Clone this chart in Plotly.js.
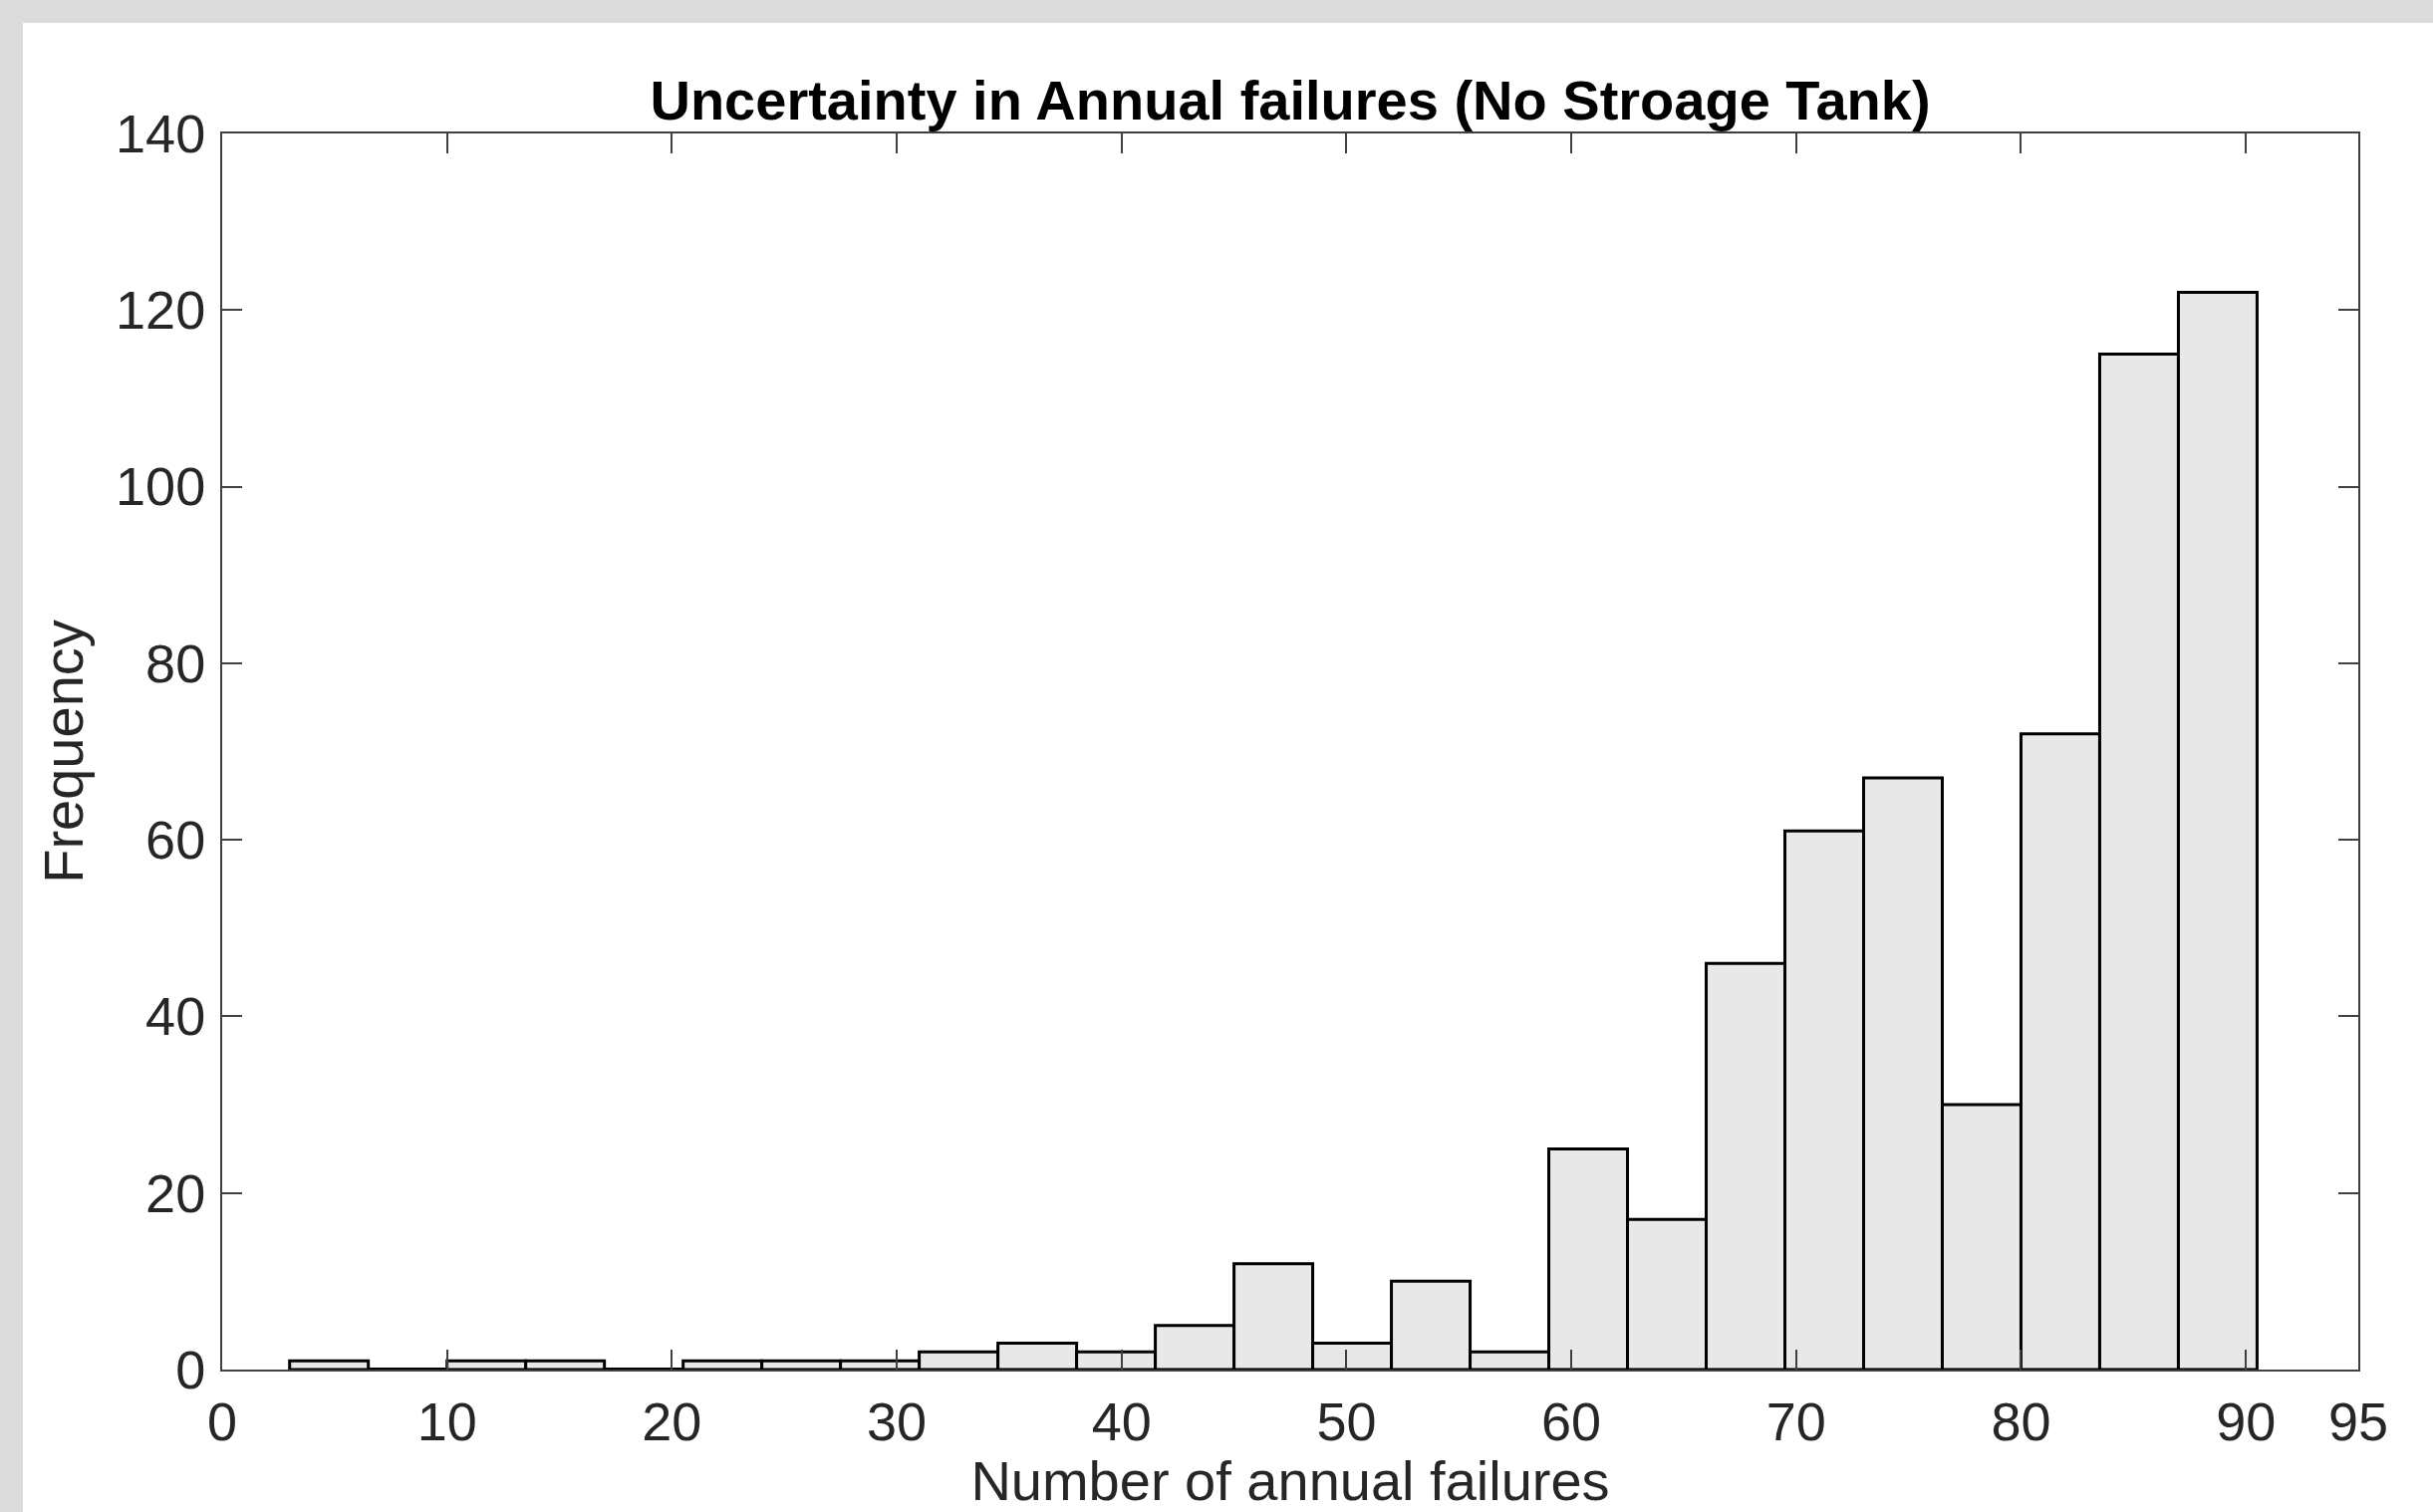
<!DOCTYPE html>
<html>
<head>
<meta charset="utf-8">
<script src="https://cdn.plot.ly/plotly-3.0.1.min.js"></script>
<style>
  html, body { margin: 0; padding: 0; background: #dcdcdc; width: 2442px; height: 1518px; overflow: hidden; }
  #chart { position: absolute; left: 23px; top: 23px; width: 2419px; height: 1495px; background: #ffffff; }
</style>
</head>
<body>
<div id="chart"></div>
<script>
// ---- data ----
const binStart = 3;
const binWidth = 3.5;
const counts = [1, 0, 1, 1, 0, 1, 1, 1, 2, 3, 2, 5, 12, 3, 10, 2, 25, 17, 46, 61, 67, 30, 72, 115, 122];
const xTickVals = [0, 10, 20, 30, 40, 50, 60, 70, 80, 90, 95];
const yTickVals = [0, 20, 40, 60, 80, 100, 120, 140];
const titleText = 'Uncertainty in Annual failures (No Stroage Tank)';
const xTitle = 'Number of annual failures';
const yTitle = 'Frequency';

// ---- derived ----
const centers = counts.map((c, i) => binStart + binWidth * (i + 0.5));
const zx = [], zy = [];
counts.forEach((c, i) => {
  if (c === 0) {
    zx.push(binStart + binWidth * i, binStart + binWidth * (i + 1), null);
    zy.push(0, 0, null);
  }
});

const FONT = '"Liberation Sans", Arial, Helvetica, sans-serif';
const axisColor = '#404040';
const textColor = '#262626';

const traces = [
  {
    type: 'bar',
    x: centers,
    y: counts,
    width: binWidth,
    marker: { color: '#e8e8e8', line: { color: '#000000', width: 3 } },
    hoverinfo: 'x+y',
    showlegend: false
  },
  {
    type: 'scatter',
    mode: 'lines',
    x: zx,
    y: zy,
    line: { color: '#000000', width: 4 },
    hoverinfo: 'skip',
    showlegend: false,
    cliponaxis: false
  }
];

const layout = {
  width: 2419,
  height: 1495,
  paper_bgcolor: '#ffffff',
  plot_bgcolor: '#ffffff',
  margin: { l: 200, r: 75, t: 111, b: 143 },
  font: { family: FONT, color: textColor, size: 54 },
  title: {
    text: titleText,
    font: { family: FONT, size: 56, color: '#000000', weight: 'bold' },
    x: 0.5,
    xref: 'paper',
    xanchor: 'center',
    yref: 'container',
    y: 1 - 77 / 1495,
    yanchor: 'middle'
  },
  xaxis: {
    range: [0, 95],
    tickmode: 'array',
    tickvals: xTickVals,
    ticktext: xTickVals.map(String),
    ticks: 'inside',
    ticklen: 20,
    tickwidth: 2,
    tickcolor: axisColor,
    showline: true,
    linecolor: axisColor,
    linewidth: 2,
    mirror: 'ticks',
    showgrid: false,
    zeroline: false,
    tickfont: { family: FONT, size: 54, color: textColor },
    ticklabelstandoff: 4,
    title: { text: xTitle, font: { family: FONT, size: 56, color: textColor }, standoff: 12 }
  },
  yaxis: {
    range: [0, 140],
    tickmode: 'array',
    tickvals: yTickVals,
    ticktext: yTickVals.map(String),
    ticks: 'inside',
    ticklen: 20,
    tickwidth: 2,
    tickcolor: axisColor,
    showline: true,
    linecolor: axisColor,
    linewidth: 2,
    mirror: 'ticks',
    showgrid: false,
    zeroline: false,
    tickfont: { family: FONT, size: 54, color: textColor },
    ticklabelstandoff: 4,
    title: { text: yTitle, font: { family: FONT, size: 56, color: textColor }, standoff: 14 }
  },
  bargap: 0
};

Plotly.newPlot('chart', traces, layout, { displayModeBar: false, staticPlot: true });
</script>
</body>
</html>
